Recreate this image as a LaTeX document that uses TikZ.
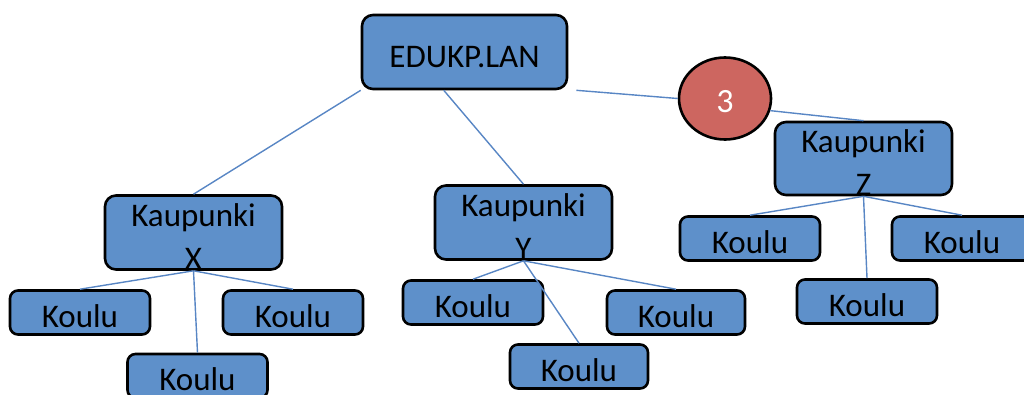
\documentclass[tikz,border=0pt]{standalone}
\usepackage{fontspec}
\setmainfont{Carlito}
\usetikzlibrary{shapes.geometric,calc}

\definecolor{boxblue}{RGB}{94,144,202}
\definecolor{linkblue}{RGB}{88,134,196}
\definecolor{badgered}{RGB}{205,102,96}

% invisible strut that lowers a two-line label a little inside its box
\newcommand{\capstrut}{\rule{0pt}{30pt}}

\tikzset{
  box/.style={draw=black, line width=2.6pt, fill=boxblue, rounded corners=11pt,
    inner sep=0pt, font=\fontsize{33}{43}\selectfont, text=black, align=center},
  citybox/.style={box, minimum width=177pt, minimum height=74pt},
  schoolbox/.style={box, rounded corners=8pt, minimum width=140pt, minimum height=44pt,
    text height=29pt, text depth=0pt},
  link/.style={draw=linkblue, line width=1.4pt},
  badge/.style={ellipse, draw=black, line width=2.6pt, fill=badgered, text=white,
    minimum width=92pt, minimum height=82pt, inner sep=0pt,
    text height=28pt, text depth=0pt, font=\fontsize{34}{40}\selectfont}
}

\begin{document}
\begin{tikzpicture}[x=1pt, y=-1pt]
  \useasboundingbox (0,0) rectangle (1024,394);
  \clip (0,0) rectangle (1024,394);

  % root domain and the badge
  \node[box, minimum width=205pt, minimum height=74pt, text height=30pt, text depth=0pt]
    (edu) at (464.5,52) {EDUKP.LAN};
  \node[badge] (c3) at (725,98.5) {3};

  % cities
  \node[citybox] (kx) at (193.5,232.5) {\capstrut Kaupunki\\X};
  \node[citybox] (ky) at (523.5,222.5) {\capstrut Kaupunki\\Y};
  \node[citybox, minimum height=73pt] (kz) at (863.5,158.5) {\capstrut Kaupunki\\Z};

  % schools of city X
  \node[schoolbox] (kx1) at (80,312.5) {Koulu};
  \node[schoolbox] (kx2) at (293,312.5) {Koulu};
  \node[schoolbox] (kx3) at (197.5,376) {Koulu};

  % schools of city Y
  \node[schoolbox] (ky1) at (473,302.5) {Koulu};
  \node[schoolbox, minimum width=138pt] (ky2) at (676,312.5) {Koulu};
  \node[schoolbox, minimum width=138pt] (ky3) at (579,366.5) {Koulu};

  % schools of city Z
  \node[schoolbox] (kz1) at (750,238.5) {Koulu};
  \node[schoolbox] (kz2) at (962,238.5) {Koulu};
  \node[schoolbox] (kz3) at (867,301.5) {Koulu};

  % connectors
  \path[link] (edu.south west) -- (kx.north);
  \path[link] ($(edu.south west)!0.4!(edu.south east)$) -- (ky.north);
  \path[link] ($(edu.south east)+(8,0)$) -- (c3.west);
  \path[link] (c3.345) -- (kz.north);

  \foreach \c in {kx1,kx2,kx3} \path[link] (kx.south) -- (\c.north);
  \foreach \c in {ky1,ky2,ky3} \path[link] (ky.south) -- (\c.north);
  \foreach \c in {kz1,kz2,kz3} \path[link] (kz.south) -- (\c.north);
\end{tikzpicture}
\end{document}
